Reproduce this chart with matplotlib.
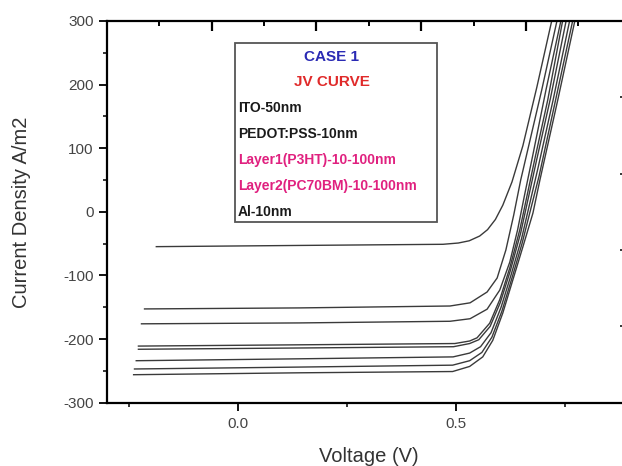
import matplotlib
matplotlib.use('Agg')
import matplotlib.pyplot as plt
from matplotlib.patches import Rectangle

plt.rcParams['font.family'] = ['Liberation Sans', 'DejaVu Sans']
plt.rcParams['axes.unicode_minus'] = False

# J-V curves (V in volts, J in A/m2)
v1 = [-0.187, 0.141, 0.470, 0.505, 0.530, 0.554, 0.572, 0.590, 0.607, 0.628, 0.653, 0.685, 0.719]
j1 = [-54.7, -52.8, -51, -49, -45.5, -38, -28, -12, 10.5, 47, 104, 196, 300]
v2 = [-0.214, 0.141, 0.486, 0.532, 0.571, 0.594, 0.614, 0.632, 0.648, 0.664, 0.696, 0.731]
j2 = [-152.6, -151, -148, -143, -126, -104, -60, -5, 50, 97, 191, 300]
v3 = [-0.221, 0.141, 0.486, 0.532, 0.571, 0.600, 0.623, 0.641, 0.657, 0.676, 0.706, 0.740]
j3 = [-176, -174.6, -172, -168, -153, -123, -79, -28, 27, 90, 192, 300]
v4 = [-0.228, 0.141, 0.497, 0.531, 0.548, 0.577, 0.600, 0.623, 0.646, 0.680, 0.710, 0.744]
j4 = [-211, -209, -207, -203, -198, -175, -138, -88, -28, 82, 176, 300]
v5 = [-0.228, 0.141, 0.494, 0.531, 0.552, 0.578, 0.601, 0.624, 0.648, 0.684, 0.716, 0.752]
j5 = [-216, -214, -212, -207, -201, -180, -143, -93, -33, 80, 178, 300]
v6 = [-0.233, 0.141, 0.493, 0.531, 0.556, 0.580, 0.603, 0.626, 0.650, 0.688, 0.722, 0.760]
j6 = [-234, -231, -228, -222, -212, -190, -150, -99, -42, 70, 175, 300]
v7 = [-0.237, 0.141, 0.492, 0.531, 0.559, 0.582, 0.605, 0.628, 0.651, 0.690, 0.728, 0.767]
j7 = [-247, -244, -241, -234, -221, -197, -156, -104, -50, 56, 176, 300]
v8 = [-0.239, 0.141, 0.492, 0.531, 0.561, 0.584, 0.607, 0.630, 0.653, 0.676, 0.692, 0.733, 0.772]
j8 = [-256, -253, -251, -243, -228, -202, -159, -107, -55, -2, 50, 176, 300]

curves = [(v1, j1), (v2, j2), (v3, j3), (v4, j4), (v5, j5), (v6, j6), (v7, j7), (v8, j8)]

top_major = [-0.06, 0.18, 0.42, 0.66]
top_minor = [-0.18, 0.06, 0.30, 0.54, 0.78]
right_ticks = [-180, -60, 60, 180]

box_lines = [
    ('CASE 1', '#2a2ab4', 11, 'center'),
    ('JV CURVE', '#e02a2a', 11, 'center'),
    ('ITO-50nm', '#1a1a1a', 10, 'left'),
    ('PEDOT:PSS-10nm', '#1a1a1a', 10, 'left'),
    ('Layer1(P3HT)-10-100nm', '#e0207f', 10, 'left'),
    ('Layer2(PC70BM)-10-100nm', '#e0207f', 10, 'left'),
    ('Al-10nm', '#1a1a1a', 10, 'left'),
]
box_rows_px = [57, 82, 107.5, 134, 160, 186, 211.5]

W, H = 622, 466
fig = plt.figure(figsize=(W / 100, H / 100), dpi=100)
# axes frame runs a little past the right edge of the picture
ax = fig.add_axes([107 / W, 1 - 402.7 / H, (625 - 107) / W, (402.7 - 21) / H])

for v, j in curves:
    ax.plot(v, j, color='#3a3a3a', lw=1.0)

ax.set_xlim(-0.3, 0.887)
ax.set_ylim(-300, 300)

ax.set_xticks([0.0, 0.5])
ax.set_xticklabels(['0.0', '0.5'])
ax.set_xticks([-0.25, 0.25, 0.75], minor=True)
ax.set_yticks([-300, -200, -100, 0, 100, 200, 300])
ax.set_yticks([-250, -150, -50, 50, 150, 250], minor=True)
ax.tick_params(which='major', direction='out', length=5.5, width=1.3,
               labelsize=11, labelcolor='#444444', pad=4)
ax.tick_params(which='minor', direction='out', length=3, width=1.1)
ax.tick_params(axis='x', which='major', pad=5)

for s in ax.spines.values():
    s.set_linewidth(1.6)

# extra tick marks on the top and right frame (inward)
xt = ax.get_xaxis_transform()
yt = ax.get_yaxis_transform()
ax.vlines(top_major, 0.975, 1.0, transform=xt, color='black', lw=1.6, clip_on=False, zorder=5)
ax.vlines(top_minor, 0.986, 1.0, transform=xt, color='black', lw=1.4, clip_on=False, zorder=5)
ax.hlines(right_ticks, 0.99, 1.0, transform=yt, color='black', lw=1.1, clip_on=False, zorder=5)

fig.text(369 / W, 1 - 456 / H, 'Voltage (V)', fontsize=14.5, color='#333333',
         ha='center', va='center')
fig.text(22 / W, 1 - 212 / H, 'Current Density A/m2', fontsize=14.5, color='#333333',
         ha='center', va='center', rotation=90)

# info box
fig.add_artist(Rectangle((235 / W, 1 - 222.3 / H), (437 - 235) / W, (222.3 - 42.7) / H,
                         transform=fig.transFigure, facecolor='white',
                         edgecolor='#555555', lw=1.3))
for (txt, col, fs, al), py in zip(box_lines, box_rows_px):
    x = 332 / W if al == 'center' else 238 / W
    fig.text(x, 1 - py / H, txt, color=col, fontsize=fs, fontweight='bold',
             ha=al, va='center')

plt.savefig('out.png', dpi=100)
